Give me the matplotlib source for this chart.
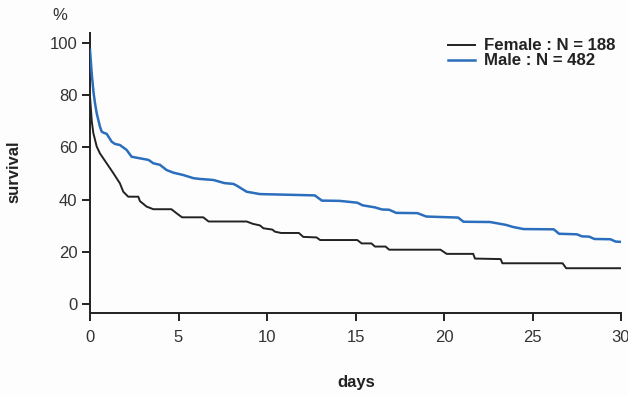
import matplotlib
matplotlib.use("Agg")
import matplotlib.pyplot as plt

plt.rcParams['font.family'] = ['Liberation Sans', 'DejaVu Sans']

# Curve vertices (days, survival %)
male_days = [0, 0.1, 0.2, 0.28, 0.38, 0.47, 0.56, 0.66, 0.8, 0.94, 1.1, 1.22, 1.41, 1.69,
             2.07, 2.35, 2.82, 3.3, 3.58, 3.95, 4.33, 4.71, 5.27, 5.84, 6.2, 6.97, 7.6,
             8.1, 8.3, 8.85, 9.6, 12.7, 13.1, 14.1, 15.1, 15.4, 16.1, 16.5, 16.9, 17.3,
             18.5, 19.0, 20.8, 21.1, 22.6, 23.5, 23.9, 24.5, 26.2, 26.5, 27.5, 27.8,
             28.2, 28.5, 29.4, 29.7, 30]
male_surv = [97.3, 88, 81, 77, 73, 70.5, 68, 66, 65.5, 65.2, 63.5, 62.2, 61.3, 60.9,
             59, 56.4, 55.8, 55.2, 53.9, 53.3, 51.3, 50.3, 49.4, 48.2, 47.9, 47.5, 46.3,
             46, 45.3, 43, 42.1, 41.6, 39.6, 39.5, 38.8, 37.8, 37.0, 36.2, 36.1, 34.9,
             34.8, 33.5, 33.1, 31.5, 31.4, 30.3, 29.5, 28.7, 28.6, 26.9, 26.7, 25.9,
             25.8, 24.9, 24.8, 23.9, 23.8]

female_days = [0, 0.1, 0.19, 0.38, 0.56, 0.94, 1.32, 1.69, 1.88, 2.16, 2.73, 2.82, 3.2,
               3.58, 4.6, 4.9, 5.2, 6.4, 6.7, 8.85, 9.2, 9.6, 9.8, 10.3, 10.45, 10.8,
               11.8, 12.05, 12.8, 13.0, 15.1, 15.35, 15.9, 16.1, 16.7, 16.9, 19.8,
               20.15, 21.65, 21.75, 23.2, 23.3, 26.7, 26.9, 30]
female_surv = [79.5, 70, 65.4, 60.3, 57.7, 53.9, 50.1, 46.2, 43, 41.1, 41.1, 39.4, 37.3,
               36.3, 36.3, 34.7, 33.2, 33.2, 31.6, 31.6, 30.7, 30.1, 29, 28.5, 27.7, 27.2,
               27.2, 25.7, 25.5, 24.5, 24.5, 23.2, 23.2, 22, 22, 20.8, 20.8,
               19.2, 19.2, 17.4, 17.2, 15.6, 15.6, 13.7, 13.7]

labels = ["Female : N = 188", "Male : N = 482"]
x_ticks = [0, 5, 10, 15, 20, 25, 30]
y_ticks = [0, 20, 40, 60, 80, 100]

fig = plt.figure(figsize=(6.28, 3.95), dpi=100)
fig.patch.set_facecolor('#fdfdfd')
ax = fig.add_axes([90/628, 1-313/395, (621-90)/628, (313-33)/395])
ax.set_facecolor('#fdfdfd')

ax.plot(female_days, female_surv, color='#222222', lw=1.4,
        label=labels[0], zorder=3)
ax.plot(male_days, male_surv, color='#2a6ebd', lw=1.8,
        label=labels[1], zorder=3)

ax.set_xlim(0, 30)
ax.set_ylim(-3.45, 103.8)
ax.set_xticks(x_ticks)
ax.set_yticks(y_ticks)
ax.spines['top'].set_visible(False)
ax.spines['right'].set_visible(False)
for s in ['left', 'bottom']:
    ax.spines[s].set_linewidth(1.4)
    ax.spines[s].set_color('#222222')
ax.tick_params(axis='both', direction='out', length=6, width=1.4, color='#222222',
               labelsize=12, labelcolor='#333333', pad=3)
ax.tick_params(axis='x', pad=6)

fig.text(60/628, 1-16/395, '%', ha='center', va='center', fontsize=12, color='#333333')
fig.text(14/628, 1-172/395, 'survival', ha='center', va='center', rotation=90,
         fontsize=12, fontweight='bold', color='#222222')
fig.text(356/628, 1-383/395, 'days', ha='center', va='center',
         fontsize=12, fontweight='bold', color='#222222')

leg = ax.legend(loc='upper right', bbox_to_anchor=(624/628, 1-30/395),
                bbox_transform=fig.transFigure, frameon=False, borderpad=0,
                handlelength=1.6, handletextpad=0.55, labelspacing=0.0,
                prop={'weight': 'bold', 'size': 12.1})
for t in leg.get_texts():
    t.set_color('#222222')

fig.savefig('out.png', dpi=100, facecolor=fig.get_facecolor())
